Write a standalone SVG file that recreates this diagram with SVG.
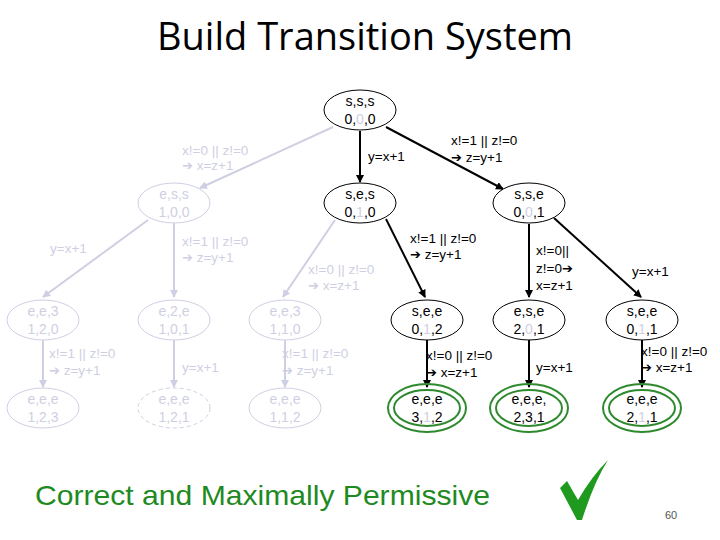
<svg xmlns="http://www.w3.org/2000/svg" width="720" height="540" viewBox="0 0 720 540">
<style>
text{font-family:"Liberation Sans",Arial,sans-serif;}
.n{fill:#fff;stroke:#000;stroke-width:1}
.f{fill:#fff;stroke:#cfcfe3;stroke-width:1}
.g{fill:none;stroke:#2f8a2f;stroke-width:2}
.t{font-size:14px;fill:#000;text-anchor:middle}
.tf{font-size:14px;fill:#cfcfe3;text-anchor:middle}
.l{font-size:13.5px;fill:#000}
.lf{font-size:13.5px;fill:#cfcfe3}
.ar{font-family:"DejaVu Sans",sans-serif;font-size:13px}
.gr{fill:#cfcfe3}
.e{stroke:#000;stroke-width:2;fill:none;marker-end:url(#a)}
.ef{stroke:#cfcfe3;stroke-width:2;fill:none;marker-end:url(#af)}
</style>
<defs>
<marker id="a" viewBox="0 0 8 8" refX="7" refY="4" markerWidth="4" markerHeight="4" orient="auto"><path d="M0,0 L8,4 L0,8 z" fill="#000"/></marker>
<marker id="af" viewBox="0 0 8 8" refX="7" refY="4" markerWidth="4" markerHeight="4" orient="auto"><path d="M0,0 L8,4 L0,8 z" fill="#cfcfe3"/></marker>
</defs>
<rect width="720" height="540" fill="#fff"/>
<text x="365" y="50" font-size="38" text-anchor="middle" style="font-family:'Open Sans','Liberation Sans',sans-serif">Build Transition System</text>
<g id="connectors">
<path class="ef" d="M333,127 L200,188"/>
<path class="e" d="M360,131 L360,182"/>
<path class="e" d="M386,127 L503,189"/>
<path class="ef" d="M148,220 L43,297"/>
<path class="ef" d="M174,223 L174,297"/>
<path class="ef" d="M335,220 L283,297"/>
<path class="e" d="M386,219 L425,297"/>
<path class="e" d="M529,224 L529,297"/>
<path class="e" d="M554,218 L641,297"/>
<path class="ef" d="M43,340 L43,387"/>
<path class="ef" d="M174,340 L174,387"/>
<path class="ef" d="M285,340 L285,387"/>
<path class="e" d="M427,340 L427,387"/>
<path class="e" d="M529,340 L529,387"/>
<path class="e" d="M642,340 L642,387"/>
<text class="lf" x="182" y="155">x!=0 || z!=0</text><text class="lf" x="182" y="170"><tspan class="ar">➔</tspan> x=z+1</text>
<text class="l" x="368" y="161">y=x+1</text>
<text class="l" x="451" y="145">x!=1 || z!=0</text><text class="l" x="451" y="162"><tspan class="ar">➔</tspan> z=y+1</text>
<text class="lf" x="50" y="253">y=x+1</text>
<text class="lf" x="182" y="246">x!=1 || z!=0</text><text class="lf" x="182" y="262"><tspan class="ar">➔</tspan> z=y+1</text>
<text class="lf" x="308" y="274">x!=0 || z!=0</text><text class="lf" x="308" y="290"><tspan class="ar">➔</tspan> x=z+1</text>
<text class="l" x="410" y="243">x!=1 || z!=0</text><text class="l" x="410" y="259"><tspan class="ar">➔</tspan> z=y+1</text>
<text class="l" x="536" y="255">x!=0||</text><text class="l" x="536" y="273">z!=0<tspan class="ar">➔</tspan></text><text class="l" x="536" y="290">x=z+1</text>
<text class="l" x="632" y="276">y=x+1</text>
<text class="lf" x="49" y="358">x!=1 || z!=0</text><text class="lf" x="49" y="375"><tspan class="ar">➔</tspan> z=y+1</text>
<text class="lf" x="182" y="372">y=x+1</text>
<text class="lf" x="282" y="358">x!=1 || z!=0</text><text class="lf" x="282" y="375"><tspan class="ar">➔</tspan> z=y+1</text>
<text class="l" x="426" y="360">x!=0 || z!=0</text><text class="l" x="426" y="377"><tspan class="ar">➔</tspan> x=z+1</text>
<text class="l" x="536" y="372">y=x+1</text>
<text class="l" x="641" y="356">x!=0 || z!=0</text><text class="l" x="641" y="372"><tspan class="ar">➔</tspan> x=z+1</text>
</g>
<g id="n-sss"><ellipse class="n" cx="360" cy="110" rx="36" ry="20"/><text class="t" x="360" y="106">s,s,s</text><text class="t" x="360" y="124">0,<tspan class="gr">0</tspan>,0</text></g>
<g id="n-ess"><ellipse class="f" cx="174" cy="203" rx="36" ry="20"/><text class="tf" x="174" y="199">e,s,s</text><text class="tf" x="174" y="217">1,0,0</text></g>
<g id="n-ses"><ellipse class="n" cx="360" cy="203" rx="36" ry="20"/><text class="t" x="360" y="199">s,e,s</text><text class="t" x="360" y="217">0,<tspan class="gr">1</tspan>,0</text></g>
<g id="n-sse"><ellipse class="n" cx="529" cy="203" rx="36" ry="20"/><text class="t" x="529" y="199">s,s,e</text><text class="t" x="529" y="217">0,<tspan class="gr">0</tspan>,1</text></g>
<g id="n-ee3a"><ellipse class="f" cx="43" cy="320" rx="36" ry="20"/><text class="tf" x="43" y="316">e,e,3</text><text class="tf" x="43" y="334">1,2,0</text></g>
<g id="n-e2e"><ellipse class="f" cx="174" cy="320" rx="36" ry="20"/><text class="tf" x="174" y="316">e,2,e</text><text class="tf" x="174" y="334">1,0,1</text></g>
<g id="n-ee3b"><ellipse class="f" cx="285" cy="320" rx="36" ry="20"/><text class="tf" x="285" y="316">e,e,3</text><text class="tf" x="285" y="334">1,1,0</text></g>
<g id="n-seea"><ellipse class="n" cx="427" cy="320" rx="36" ry="20"/><text class="t" x="427" y="316">s,e,e</text><text class="t" x="427" y="334">0,<tspan class="gr">1</tspan>,2</text></g>
<g id="n-ese"><ellipse class="n" cx="529" cy="320" rx="36" ry="20"/><text class="t" x="529" y="316">e,s,e</text><text class="t" x="529" y="334">2,<tspan class="gr">0</tspan>,1</text></g>
<g id="n-seeb"><ellipse class="n" cx="642" cy="320" rx="36" ry="20"/><text class="t" x="642" y="316">s,e,e</text><text class="t" x="642" y="334">0,<tspan class="gr">1</tspan>,1</text></g>
<g id="n-eee123"><ellipse class="f" cx="43" cy="408" rx="36" ry="20"/><text class="tf" x="43" y="404">e,e,e</text><text class="tf" x="43" y="422">1,2,3</text></g>
<g id="n-eee121"><ellipse class="f" cx="174" cy="408" rx="36" ry="20" stroke-dasharray="4,3"/><text class="tf" x="174" y="404">e,e,e</text><text class="tf" x="174" y="422">1,2,1</text></g>
<g id="n-eee112"><ellipse class="f" cx="285" cy="408" rx="36" ry="20"/><text class="tf" x="285" y="404">e,e,e</text><text class="tf" x="285" y="422">1,1,2</text></g>
<g id="n-eee312"><ellipse class="g" cx="427" cy="408" rx="39" ry="24"/><ellipse class="g" cx="427" cy="408" rx="33" ry="18"/><text class="t" x="427" y="404">e,e,e</text><text class="t" x="427" y="422">3,<tspan class="gr">1</tspan>,2</text></g>
<g id="n-eee231"><ellipse class="g" cx="529" cy="408" rx="39" ry="24"/><ellipse class="g" cx="529" cy="408" rx="33" ry="18"/><text class="t" x="529" y="404">e,e,e,</text><text class="t" x="529" y="422">2,3,1</text></g>
<g id="n-eee211"><ellipse class="g" cx="642" cy="408" rx="39" ry="24"/><ellipse class="g" cx="642" cy="408" rx="33" ry="18"/><text class="t" x="642" y="404">e,e,e</text><text class="t" x="642" y="422">2,<tspan class="gr">1</tspan>,1</text></g>
<text x="35" y="505" font-size="28" fill="#1f8a1f" textLength="455" lengthAdjust="spacingAndGlyphs">Correct and Maximally Permissive</text>
<path d="M560,488 L567,481 L578,500 Q592,476 608,460 Q594,482 582,520 L577,520 Z" fill="#1f9a1f"/>
<text x="665" y="519" font-size="11" fill="#555">60</text>
</svg>
